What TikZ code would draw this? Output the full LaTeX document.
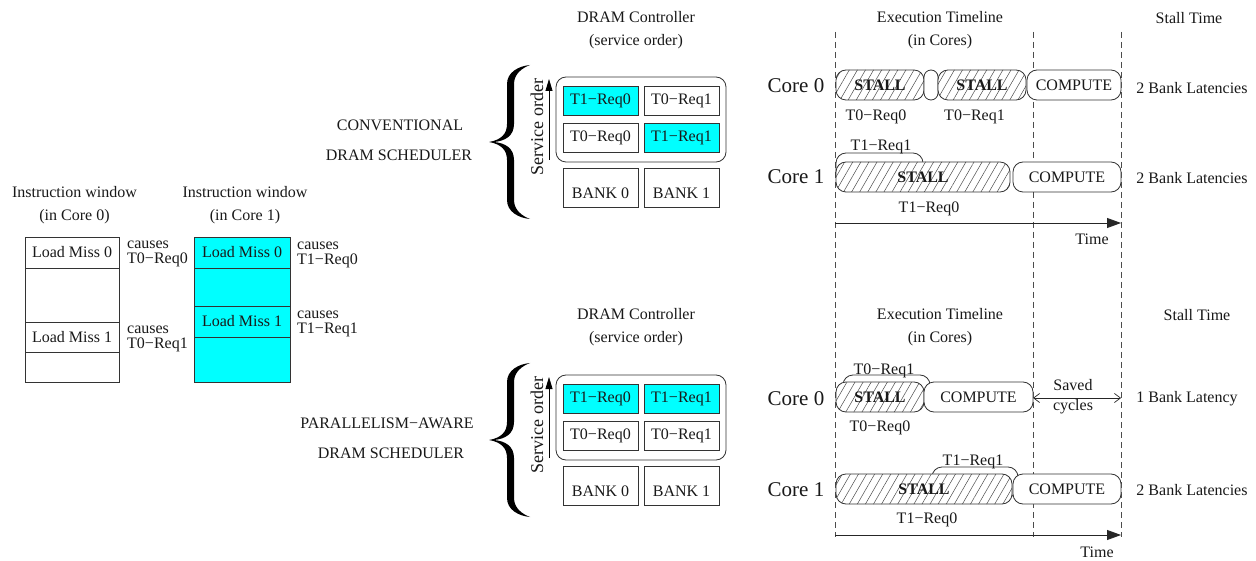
\documentclass[tikz,border=0pt]{standalone}
\usepackage{fontspec}
\setmainfont{Liberation Serif}
\usetikzlibrary{arrows.meta,patterns.meta}

\definecolor{aqua}{RGB}{0,255,255}

\tikzset{
  txt/.style={font=\fontsize{16}{18}\selectfont, inner sep=0pt, text=black!90},
  big/.style={font=\fontsize{21}{24}\selectfont, inner sep=0pt, text=black!90},
  two/.style={txt, align=center, font=\fontsize{16}{23}\selectfont},
  ln/.style={draw=black!80, line width=0.8pt},
  cell/.style={ln, txt, minimum width=#1},
  req/.style={ln, txt, minimum width=75pt, minimum height=29pt},
  hot/.style={req, fill=aqua},
  bankbox/.style={ln, minimum width=75pt, minimum height=39pt},
  ctrl/.style={ln, rounded corners=10pt},
  pill/.style={ln, txt, rounded corners=10pt, minimum height=30pt, minimum width=#1},
  stallbox/.style={pill=#1, preaction={fill=white},
    pattern={Lines[angle=60,distance=7pt,line width=0.5pt]}, pattern color=black!70,
    font=\fontsize{16}{18}\selectfont\bfseries},
  computebox/.style={pill=#1, fill=white},
  overbox/.style={ln, rounded corners=10pt, minimum height=30pt, minimum width=#1},
  guide/.style={draw=black!70, line width=0.8pt, dash pattern=on 6pt off 4pt},
  timearrow/.style={draw=black!85, line width=0.8pt, -{Triangle[length=14pt,width=10pt]}},
  savedarrow/.style={draw=black!85, line width=0.7pt,
    {Straight Barb[length=6pt,width=9pt]}-{Straight Barb[length=6pt,width=9pt]}},
  orderarrow/.style={draw=black, line width=0.8pt, -{Triangle[length=12pt,width=7pt]}},
  bigbrace/.pic={
    \fill[black] (41,-77) .. controls (30,-76) and (18,-70) .. (18,-58)
      -- (18,-18) .. controls (18,-8) and (12,-2) .. (0,0)
      .. controls (12,2) and (18,8) .. (18,18)
      -- (18,58) .. controls (18,70) and (30,76) .. (41,77)
      .. controls (33,74) and (25,68) .. (25,58)
      -- (25,18) .. controls (25,6) and (16,1) .. (5,0)
      .. controls (16,-1) and (25,-6) .. (25,-18)
      -- (25,-58) .. controls (25,-68) and (33,-74) .. (41,-77) -- cycle;
  }
}

\begin{document}
\begin{tikzpicture}[x=1pt,y=-1pt]
\fill[white] (0,0) rectangle (1256,561);
\useasboundingbox (0,0) rectangle (1256,561);

% ---------------- instruction windows ----------------
\node[two] (iw0) at (74.5,205) {Instruction window\\(in Core 0)};
\node[two] (iw1) at (245,205) {Instruction window\\(in Core 1)};

\node[cell=94pt, minimum height=31pt] (w0a) at (72,252.5) {Load Miss 0};
\node[cell=94pt, minimum height=54pt] (w0b) at (72,295) {};
\node[cell=94pt, minimum height=30pt] (w0c) at (72,337) {Load Miss 1};
\node[cell=94pt, minimum height=30pt] (w0d) at (72,367) {};

\node[cell=96pt, minimum height=31pt, fill=aqua] (w1a) at (242,252.5) {Load Miss 0};
\node[cell=96pt, minimum height=38pt, fill=aqua] (w1b) at (242,287) {};
\node[cell=96pt, minimum height=31pt, fill=aqua] (w1c) at (242,321.5) {Load Miss 1};
\node[cell=96pt, minimum height=45pt, fill=aqua] (w1d) at (242,359.5) {};

\node[txt, align=left, anchor=west, font=\fontsize{16}{15.5}\selectfont] (c00) at (127,254) {causes\\T0−Req0};
\node[txt, align=left, anchor=west, font=\fontsize{16}{15.5}\selectfont] (c01) at (127,339) {causes\\T0−Req1};
\node[txt, align=left, anchor=west, font=\fontsize{16}{15.5}\selectfont] (c10) at (297,255) {causes\\T1−Req0};
\node[txt, align=left, anchor=west, font=\fontsize{16}{15.5}\selectfont] (c11) at (297,324) {causes\\T1−Req1};

% ---------------- conventional scheduler ----------------
\node[txt] (conv1) at (400,125) {CONVENTIONAL};
\node[txt] (conv2) at (399,155) {DRAM SCHEDULER};
\pic at (489,142) {bigbrace};

\node[two] (dc1) at (636,30) {DRAM Controller\\(service order)};
\draw[ctrl] (556,77) rectangle (726,162);
\node[hot] (a00) at (600.5,100.5) {T1−Req0};
\node[req] (a01) at (681.5,100.5) {T0−Req1};
\node[req] (a10) at (600.5,138) {T0−Req0};
\node[hot] (a11) at (681.5,138) {T1−Req1};
\node[bankbox] (ab0) at (600.5,187.5) {};
\node[bankbox] (ab1) at (681.5,187.5) {};
\node[txt] (ab0t) at (600.5,193) {BANK 0};
\node[txt] (ab1t) at (681.5,193) {BANK 1};
\coordinate (ao1) at (549,160);
\coordinate (ao2) at (549,79);
\draw[orderarrow] (ao1) -- (ao2);
\node[txt, rotate=90, font=\fontsize{18}{18}\selectfont] (aso) at (537,127) {Service order};

% ---------------- parallelism-aware scheduler ----------------
\node[txt] (par1) at (387,423) {PARALLELISM−AWARE};
\node[txt] (par2) at (391,453) {DRAM SCHEDULER};
\pic at (489,440) {bigbrace};

\node[two] (dc2) at (636,327) {DRAM Controller\\(service order)};
\draw[ctrl] (556,375) rectangle (726,460);
\node[hot] (b00) at (600.5,398.5) {T1−Req0};
\node[hot] (b01) at (681.5,398.5) {T1−Req1};
\node[req] (b10) at (600.5,436) {T0−Req0};
\node[req] (b11) at (681.5,436) {T0−Req1};
\node[bankbox] (bb0) at (600.5,485.5) {};
\node[bankbox] (bb1) at (681.5,485.5) {};
\node[txt] (bb0t) at (600.5,491) {BANK 0};
\node[txt] (bb1t) at (681.5,491) {BANK 1};
\coordinate (bo1) at (549,458);
\coordinate (bo2) at (549,377);
\draw[orderarrow] (bo1) -- (bo2);
\node[txt, rotate=90, font=\fontsize{18}{18}\selectfont] (bso) at (537,425) {Service order};

% ---------------- timeline guides ----------------
\coordinate (g1t) at (835,32);  \coordinate (g1b) at (835,537);
\coordinate (g2t) at (1033,32); \coordinate (g2b) at (1033,537);
\coordinate (g3t) at (1121,32); \coordinate (g3b) at (1121,537);
\draw[guide] (g1t) -- (g1b);
\draw[guide] (g2t) -- (g2b);
\draw[guide] (g3t) -- (g3b);

% ---------------- conventional timeline ----------------
\node[two] (et1) at (940,30) {Execution Timeline\\(in Cores)};
\node[txt] (st1) at (1189,18) {Stall Time};
\node[big] (k0a) at (796,86) {Core 0};
\node[big] (k1a) at (796,177) {Core 1};

\node[stallbox=88pt] (s0a) at (880,85) {STALL};
\node[pill=14pt, fill=white, rounded corners=7pt] (gap) at (931,85) {};
\node[stallbox=88pt] (s0b) at (982,85) {STALL};
\node[computebox=94pt] (p0a) at (1074,85) {COMPUTE};
\node[txt] (r00a) at (876,117) {T0−Req0};
\node[txt] (r01a) at (974.5,117) {T0−Req1};
\node[txt] (l0a) at (1192,88) {2 Bank Latencies};

\node[overbox=87pt] (o1a) at (879.5,168) {};
\node[txt] (r11a) at (881,147) {T1−Req1};
\node[stallbox=174pt] (s1a) at (923,177) {STALL};
\node[computebox=108pt] (p1a) at (1067,177) {COMPUTE};
\node[txt] (r10a) at (929,209) {T1−Req0};
\node[txt] (l1a) at (1192,178) {2 Bank Latencies};

\coordinate (ta1) at (835,223);
\coordinate (ta2) at (1121,223);
\draw[timearrow] (ta1) -- (ta2);
\node[txt] (tma) at (1092,239) {Time};

% ---------------- parallelism-aware timeline ----------------
\node[two] (et2) at (940,327) {Execution Timeline\\(in Cores)};
\node[txt] (st2) at (1197,315) {Stall Time};
\node[big] (k0b) at (796,399) {Core 0};
\node[big] (k1b) at (796,490) {Core 1};

\node[overbox=87pt] (o0b) at (886.5,390) {};
\node[txt] (r01b) at (884,371) {T0−Req1};
\node[stallbox=88pt] (s0c) at (880,397) {STALL};
\node[computebox=109pt] (p0b) at (978.5,397) {COMPUTE};
\node[txt] (r00b) at (880,428) {T0−Req0};

\coordinate (sv1) at (1033,398);
\coordinate (sv2) at (1121,398);
\draw[savedarrow] (sv1) -- (sv2);
\node[txt] (sva) at (1073,385) {Saved};
\node[txt] (svb) at (1073,407) {cycles};
\node[txt] (l0b) at (1187,399) {1 Bank Latency};

\node[overbox=86pt] (o1b) at (975,482) {};
\node[txt] (r11b) at (973,462) {T1−Req1};
\node[stallbox=176pt] (s1b) at (924,489) {STALL};
\node[computebox=108pt] (p1b) at (1067,489) {COMPUTE};
\node[txt] (r10b) at (927,520) {T1−Req0};
\node[txt] (l1b) at (1192,490) {2 Bank Latencies};

\coordinate (tb1) at (835,535);
\coordinate (tb2) at (1121,535);
\draw[timearrow] (tb1) -- (tb2);
\node[txt] (tmb) at (1097,552) {Time};
\end{tikzpicture}
\end{document}
